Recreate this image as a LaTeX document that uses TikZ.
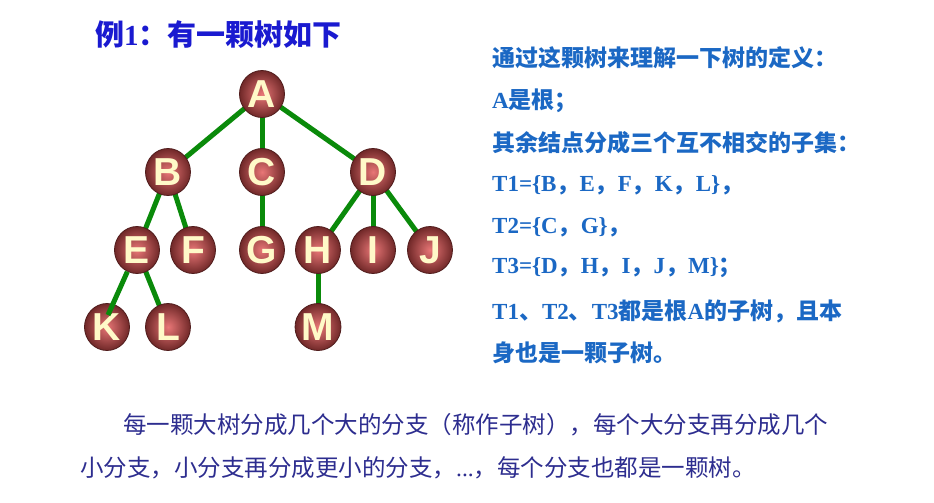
\documentclass[tikz,border=0pt]{standalone}
\usepackage{fontspec}
\setmainfont{Liberation Serif}
\newfontfamily\cjk{Noto Sans CJK SC}
\newfontfamily\letterfont{Liberation Sans}
\usetikzlibrary{shapes.geometric,backgrounds,calc}
\newcommand\zh[1]{{\cjk #1}}
\definecolor{titleblue}{RGB}{26,26,208}
\definecolor{textblue}{RGB}{27,104,196}
\definecolor{bottomblue}{RGB}{45,45,143}
\definecolor{edgegreen}{RGB}{10,138,10}
\definecolor{ballin}{RGB}{232,118,118}
\definecolor{ballout}{RGB}{112,40,40}
\definecolor{ballrim}{RGB}{80,28,28}
\definecolor{lettercol}{RGB}{255,249,200}
\begin{document}
\begin{tikzpicture}[x=1pt,y=-1pt,
  ballnode/.style={ellipse,minimum width=45pt,minimum height=47pt,inner sep=0pt,
    inner color=ballin,outer color=ballout,draw=ballrim,line width=0.8pt,
    text=lettercol,font=\letterfont\bfseries\fontsize{39}{39}\selectfont},
  edge/.style={draw=edgegreen,line width=5pt},
  rtext/.style={anchor=west,inner sep=0pt,text=textblue,font=\bfseries\fontsize{23}{26}\selectfont},
  btext/.style={anchor=west,inner sep=0pt,text=bottomblue,font=\fontsize{23.5}{28}\selectfont}]
\useasboundingbox (0,0) rectangle (934,503);

% title
\node[anchor=west,inner sep=0pt,text=titleblue,font=\bfseries\fontsize{29}{32}\selectfont] (title) at (95,35) {\zh{例}1\zh{：有一颗树如下}};

% tree nodes
\node[ballnode] (A) at (262,94) {A};
\node[ballnode] (B) at (168,172) {B};
\node[ballnode] (C) at (262,172) {C};
\node[ballnode] (D) at (373,172) {D};
\node[ballnode] (E) at (137,250) {E};
\node[ballnode] (F) at (193,250) {F};
\node[ballnode] (G) at (262,250) {G};
\node[ballnode] (H) at (318,250) {H};
\node[ballnode] (I) at (373,250) {I};
\node[ballnode] (J) at (430,250) {J};
\node[ballnode] (K) at (107,327) {K};
\node[ballnode] (L) at (168,327) {L};
\node[ballnode] (M) at (318,327) {M};
\coordinate (Kend) at ($(K.center)+(1,-12)$);

\begin{scope}[on background layer]
  \fill[white] (0,0) rectangle (934,503);
  \draw[edge] (A.center) -- (B.center);
  \draw[edge] (A.center) -- (C.center);
  \draw[edge] (A.center) -- (D.center);
  \draw[edge] (B.center) -- (E.center);
  \draw[edge] (B.center) -- (F.center);
  \draw[edge] (C.center) -- (G.center);
  \draw[edge] (D.center) -- (H.center);
  \draw[edge] (D.center) -- (I.center);
  \draw[edge] (D.center) -- (J.center);
  \draw[edge] (E.center) -- (L.center);
  \draw[edge] (H.center) -- (M.center);
\end{scope}
\draw[edge] (E) -- (Kend);

% right text
\node[rtext] (r1) at (492,58) {\zh{通过这颗树来理解一下树的定义：}};
\node[rtext] (r2) at (492,101) {A\zh{是根；}};
\node[rtext] (r3) at (492,143) {\zh{其余结点分成三个互不相交的子集：}};
\node[rtext] (r4) at (492,185) {T1=\{B\zh{，}E\zh{，}F\zh{，}K\zh{，}L\}\zh{，}};
\node[rtext] (r5) at (492,227) {T2=\{C\zh{，}G\}\zh{，}};
\node[rtext] (r6) at (492,268) {T3=\{D\zh{，}H\zh{，}I\zh{，}J\zh{，}M\}\zh{；}};
\node[rtext] (r7) at (492,311) {T1\zh{、}T2\zh{、}T3\zh{都是根}A\zh{的子树，且本}};
\node[rtext] (r8) at (492,353) {\zh{身也是一颗子树。}};

% bottom text
\node[btext] (b1) at (123,425) {\zh{每一颗大树分成几个大的分支（称作子树），每个大分支再分成几个}};
\node[btext] (b2) at (80,468) {\zh{小分支，小分支再分成更小的分支，}...\zh{，每个分支也都是一颗树。}};
\end{tikzpicture}
\end{document}
